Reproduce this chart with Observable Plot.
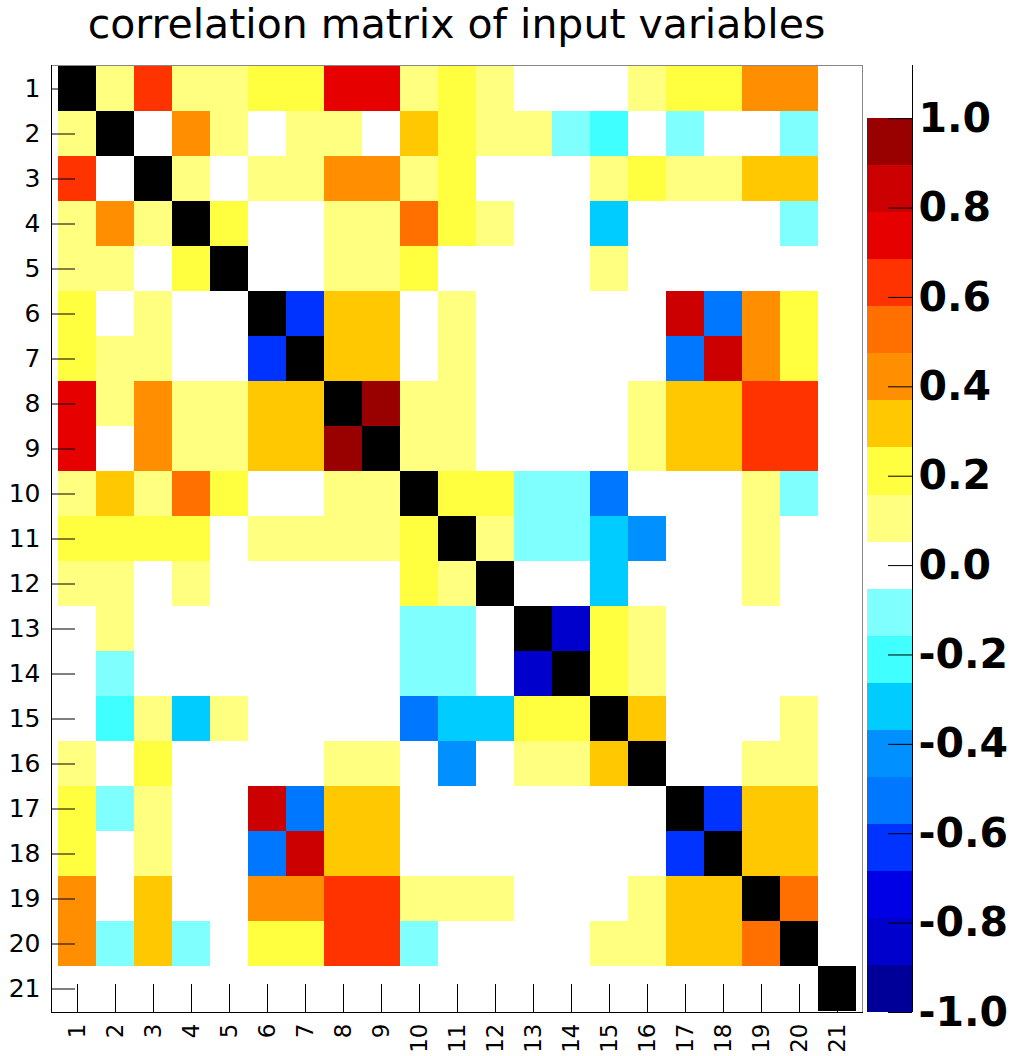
<!DOCTYPE html>
<html>
<head>
<meta charset="utf-8">
<script src="https://cdn.jsdelivr.net/npm/d3@7"></script>
<script src="https://cdn.jsdelivr.net/npm/@observablehq/plot@0.6"></script>
<style>
  body { margin: 0; background: #fff; }
  #chart { position: relative; width: 1011px; height: 1056px; overflow: hidden; font-family: "DejaVu Sans", sans-serif; color: #000; }
  #title { position: absolute; left: 51px; width: 811px; top: 4px; text-align: center; font-size: 41px; line-height: 41px; white-space: nowrap; }
  #matrix { position: absolute; left: 0; top: 55px; }
  #palette { position: absolute; left: 864px; top: 55px; }
</style>
</head>
<body>
<div id="chart">
  <div id="title">correlation matrix of input variables</div>
  <div id="matrix"></div>
  <div id="palette"></div>
</div>
<script>
// Input variables, numbered 1..21
const variables = d3.range(1, 22);

// Linear correlation coefficients, row i / column j (symmetric)
const corr = [
  [1, .1, .6, .1, .1, .2, .2, .7, .7, .1, .2, .1, 0, 0, 0, .1, .2, .2, .4, .4, 0],
  [.1, 1, 0, .4, .1, 0, .1, .1, 0, .3, .2, .1, .1, -.1, -.2, 0, -.1, 0, 0, -.1, 0],
  [.6, 0, 1, .1, 0, .1, .1, .4, .4, .1, .2, 0, 0, 0, .1, .2, .1, .1, .3, .3, 0],
  [.1, .4, .1, 1, .2, 0, 0, .1, .1, .5, .2, .1, 0, 0, -.3, 0, 0, 0, 0, -.1, 0],
  [.1, .1, 0, .2, 1, 0, 0, .1, .1, .2, 0, 0, 0, 0, .1, 0, 0, 0, 0, 0, 0],
  [.2, 0, .1, 0, 0, 1, -.6, .3, .3, 0, .1, 0, 0, 0, 0, 0, .8, -.5, .4, .2, 0],
  [.2, .1, .1, 0, 0, -.6, 1, .3, .3, 0, .1, 0, 0, 0, 0, 0, -.5, .8, .4, .2, 0],
  [.7, .1, .4, .1, .1, .3, .3, 1, .92, .1, .1, 0, 0, 0, 0, .1, .3, .3, .6, .6, 0],
  [.7, 0, .4, .1, .1, .3, .3, .92, 1, .1, .1, 0, 0, 0, 0, .1, .3, .3, .6, .6, 0],
  [.1, .3, .1, .5, .2, 0, 0, .1, .1, 1, .2, .2, -.1, -.1, -.5, 0, 0, 0, .1, -.1, 0],
  [.2, .2, .2, .2, 0, .1, .1, .1, .1, .2, 1, .1, -.1, -.1, -.3, -.4, 0, 0, .1, 0, 0],
  [.1, .1, 0, .1, 0, 0, 0, 0, 0, .2, .1, 1, 0, 0, -.3, 0, 0, 0, .1, 0, 0],
  [0, .1, 0, 0, 0, 0, 0, 0, 0, -.1, -.1, 0, 1, -.85, .2, .1, 0, 0, 0, 0, 0],
  [0, -.1, 0, 0, 0, 0, 0, 0, 0, -.1, -.1, 0, -.85, 1, .2, .1, 0, 0, 0, 0, 0],
  [0, -.2, .1, -.3, .1, 0, 0, 0, 0, -.5, -.3, -.3, .2, .2, 1, .3, 0, 0, 0, .1, 0],
  [.1, 0, .2, 0, 0, 0, 0, .1, .1, 0, -.4, 0, .1, .1, .3, 1, 0, 0, .1, .1, 0],
  [.2, -.1, .1, 0, 0, .8, -.5, .3, .3, 0, 0, 0, 0, 0, 0, 0, 1, -.6, .3, .3, 0],
  [.2, 0, .1, 0, 0, -.5, .8, .3, .3, 0, 0, 0, 0, 0, 0, 0, -.6, 1, .3, .3, 0],
  [.4, 0, .3, 0, 0, .4, .4, .6, .6, .1, .1, .1, 0, 0, 0, .1, .3, .3, 1, .5, 0],
  [.4, -.1, .3, -.1, 0, .2, .2, .6, .6, -.1, 0, 0, 0, 0, .1, .1, .3, .3, .5, 1, 0],
  [0, 0, 0, 0, 0, 0, 0, 0, 0, 0, 0, 0, 0, 0, 0, 0, 0, 0, 0, 0, 1]
];

// 19-step palette from -1 to +1; the value 1 itself (diagonal) is drawn black
const paletteColors = [
  "#000099", "#0000cc", "#0000e6", "#0033ff", "#0077ff", "#0090ff", "#00ccff",
  "#40ffff", "#80ffff", "#ffffff", "#ffff80", "#ffff40", "#ffc800", "#ff8f00",
  "#ff7000", "#ff3300", "#e60000", "#cc0000", "#990000"
];
const paletteTicks = [-1, -0.8, -0.6, -0.4, -0.2, 0, 0.2, 0.4, 0.6, 0.8, 1];

const nBins = paletteColors.length;
const binEdges = d3.range(nBins + 1).map(k => -1 + 2 * k / nBins);
const colorScale = {
  type: "threshold",
  domain: [...binEdges.slice(1, nBins), 1],
  range: [...paletteColors, "#000000"]
};

const cells = corr.flatMap((row, i) =>
  row.map((value, j) => ({row: variables[i], col: variables[j], value}))
);

const frameW = 811, frameH = 947;

const matrix = Plot.plot({
  width: 870,
  height: 1001,
  marginTop: 10,
  marginBottom: 44,
  marginLeft: 51,
  marginRight: 8,
  style: {fontFamily: "DejaVu Sans", background: "transparent", color: "black"},
  x: {type: "band", domain: variables, padding: 0, label: null},
  y: {type: "band", domain: variables, padding: 0, label: null},
  color: colorScale,
  marks: [
    Plot.cell(cells, {x: "col", y: "row", fill: "value", inset: 0, shapeRendering: "crispEdges"}),
    Plot.frame({stroke: "#888"}),
    Plot.frame({anchor: "left", stroke: "black"}),
    Plot.frame({anchor: "bottom", stroke: "black"}),
    Plot.tickY(variables, {y: d => d, stroke: "black", insetRight: frameW - 24}),
    Plot.tickX(variables, {x: d => d, stroke: "black", insetTop: frameH - 28}),
    Plot.axisY({tickSize: 0, tickPadding: 11, fontSize: 25, label: null}),
    Plot.axisX({tickSize: 0, tickPadding: 11, tickRotate: -90, fontSize: 23, label: null})
  ]
});
document.getElementById("matrix").append(matrix);

// Colour palette axis
const bins = paletteColors.map((c, k) => ({lo: binEdges[k], hi: binEdges[k + 1]}));
const palette = Plot.plot({
  width: 147,
  height: 1001,
  marginTop: 10,
  marginBottom: 44,
  marginLeft: 3,
  marginRight: 99,
  style: {fontFamily: "DejaVu Sans", background: "transparent", color: "black", overflow: "visible"},
  x: {domain: [0, 1], axis: null},
  y: {domain: [-1, 1.119], axis: null},
  color: colorScale,
  marks: [
    Plot.rect(bins, {x1: 0, x2: 1, y1: "lo", y2: "hi", fill: d => (d.lo + d.hi) / 2, inset: 0, shapeRendering: "crispEdges"}),
    Plot.ruleX([1], {stroke: "black"}),
    Plot.tickY(paletteTicks, {y: d => d, stroke: "black", insetLeft: 21}),
    Plot.text(paletteTicks, {
      x: 1, y: d => d, text: d => d.toFixed(1), dx: 6, textAnchor: "start",
      fontSize: 41, fontWeight: "bold", fill: "black"
    })
  ]
});
document.getElementById("palette").append(palette);
</script>
</body>
</html>
